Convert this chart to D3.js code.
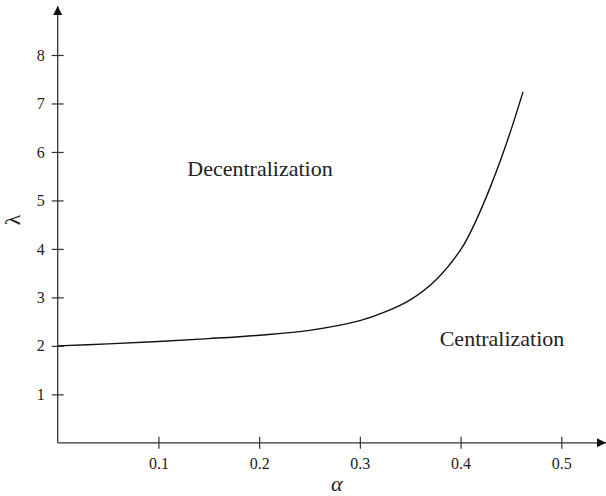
<!DOCTYPE html>
<meta charset="utf-8">
<style>
body { margin: 0; background: #fff; }
.tick line { stroke: #333; stroke-width: 1.2; }
</style>
<svg width="606" height="496"></svg>
<script src="https://d3js.org/d3.v7.min.js"></script>
<script>

// values
var alpha  = [0, 0.05, 0.1, 0.15, 0.2, 0.25, 0.3, 0.325, 0.35, 0.375, 0.4, 0.41, 0.42, 0.43, 0.44, 0.45, 0.462];
var lambda = [2.00, 2.04, 2.09, 2.15, 2.22, 2.32, 2.52, 2.70, 2.95, 3.35, 3.98, 4.35, 4.8, 5.3, 5.85, 6.45, 7.24];

var xTicks = [0.1, 0.2, 0.3, 0.4, 0.5];
var yTicks = [1, 2, 3, 4, 5, 6, 7, 8];

var FONT = "'Liberation Serif'";

var svg = d3.select("svg");

var x = d3.scaleLinear().domain([0, 0.5]).range([57.7, 561.3]);
var y = d3.scaleLinear().domain([0, 8]).range([442.8, 55]);

// arrowhead
svg.append("defs").append("marker")
    .attr("id", "arrow")
    .attr("viewBox", "0 0 10 10")
    .attr("refX", 10).attr("refY", 5)
    .attr("markerWidth", 9).attr("markerHeight", 10)
    .attr("markerUnits", "userSpaceOnUse")
    .attr("orient", "auto")
  .append("path")
    .attr("d", "M0,0L10,5L0,10Z")
    .attr("fill", "#111");

// axes lines
svg.append("line")
    .attr("x1", x(0)).attr("y1", y(0))
    .attr("x2", 606).attr("y2", y(0))
    .attr("stroke", "#333").attr("stroke-width", 1.3)
    .attr("marker-end", "url(#arrow)");

svg.append("line")
    .attr("x1", x(0)).attr("y1", y(0))
    .attr("x2", x(0)).attr("y2", 6)
    .attr("stroke", "#333").attr("stroke-width", 1.3)
    .attr("marker-end", "url(#arrow)");

// ticks cross the axis, so shift the axis by half the tick size
svg.append("g")
    .attr("transform", "translate(0," + (y(0) + 6) + ")")
    .call(d3.axisBottom(x).tickValues(xTicks).tickFormat(d3.format(".1f"))
      .tickSizeInner(-12).tickSizeOuter(0).tickPadding(9))
    .call(function(g) { g.select(".domain").remove(); })
    .selectAll("text")
      .style("font-family", FONT)
      .style("font-size", "16px")
      .attr("fill", "#222");

svg.append("g")
    .attr("transform", "translate(" + (x(0) + 6) + ",0)")
    .call(d3.axisLeft(y).tickValues(yTicks).tickSizeInner(12).tickSizeOuter(0).tickPadding(7))
    .call(function(g) { g.select(".domain").remove(); })
    .selectAll("text")
      .style("font-family", FONT)
      .style("font-size", "16px")
      .attr("fill", "#222");

// the boundary curve
var line = d3.line()
    .x(function(d, i) { return x(alpha[i]); })
    .y(function(d) { return y(d); })
    .curve(d3.curveCatmullRom);

svg.append("path")
    .datum(lambda)
    .attr("d", line)
    .attr("fill", "none")
    .attr("stroke", "#111")
    .attr("stroke-width", 1.4);

// region labels
svg.append("text")
    .attr("x", 260).attr("y", 176)
    .attr("text-anchor", "middle")
    .attr("fill", "#222")
    .style("font-family", FONT)
    .style("font-size", "22px")
    .text("Decentralization");

svg.append("text")
    .attr("x", 502).attr("y", 346)
    .attr("text-anchor", "middle")
    .attr("fill", "#222")
    .style("font-family", FONT)
    .style("font-size", "22px")
    .text("Centralization");

// axis titles
svg.append("text")
    .attr("x", x(0.277)).attr("y", 491)
    .attr("text-anchor", "middle")
    .attr("fill", "#222")
    .style("font-family", FONT)
    .style("font-size", "22px")
    .style("font-style", "italic")
    .text("α");

svg.append("text")
    .attr("transform", "translate(20," + y(4.6) + ") rotate(-90)")
    .attr("text-anchor", "middle")
    .attr("fill", "#222")
    .style("font-family", FONT)
    .style("font-size", "22px")
    .text("λ");

</script>
